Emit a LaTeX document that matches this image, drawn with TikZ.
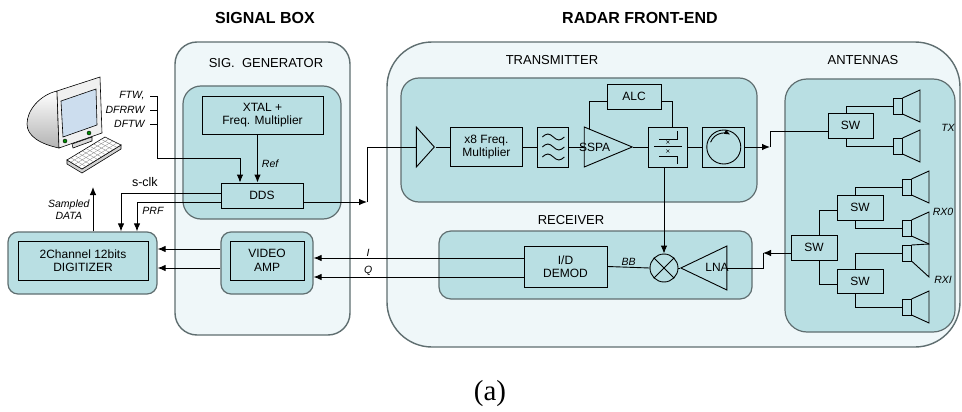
\documentclass[tikz,border=0pt]{standalone}
\usepackage{fontspec}
\setmainfont{Liberation Sans}
\newfontfamily\captionserif{Liberation Serif}
\usepackage{tikz}
\usetikzlibrary{positioning,arrows.meta,shapes.geometric,calc}
\definecolor{panelbg}{HTML}{EFF7F9}
\definecolor{traybg}{HTML}{B9DFE3}
\definecolor{rim}{HTML}{5F6E70}
\definecolor{screenblue}{HTML}{CCDDEE}
\tikzset{
  pics/horn/.style args={#1/#2}{code={
    \coordinate (-feed) at (0,0);
    \draw (0,-8) rectangle (9.5,8);
    \draw (9.5,-8) -- (27,-#1) -- (27,#2) -- (9.5,8);
  }}
}

\begin{document}
\begin{tikzpicture}[
x=1pt, y=-1pt,
node distance=14.5pt,
line width=0.9pt,
panel/.style={draw=rim, line width=1.4pt, fill=panelbg, rounded corners=#1, inner sep=0pt},
tray/.style={draw=rim, line width=1.2pt, fill=traybg, rounded corners=#1, inner sep=0pt},
blk/.style={draw, line width=0.9pt, align=center, inner sep=0pt, font=\fontsize{12}{13.5}\selectfont},
lbl/.style={inner sep=0pt, font=\fontsize{12}{13.5}\selectfont},
amp/.style={draw, isosceles triangle, isosceles triangle stretches, inner sep=0pt},
grp/.style={font=\fontsize{13}{15}\selectfont},
heading/.style={font=\fontsize{16}{18}\selectfont\bfseries},
note/.style={font=\fontsize{10.5}{12}\selectfont\itshape, inner sep=1pt},
sig/.style={-{Latex[length=8pt,width=6.5pt]}}
]
\useasboundingbox (0,0) rectangle (962,412);

\node[heading] (sbhead) at (265,18) {SIGNAL BOX};
\node[heading] (rfhead) at (640,18) {RADAR FRONT-END};

\node[panel=22pt, minimum width=175pt, minimum height=293pt] (sigbox) at (262.5,188.5) {};
\node[grp] (siglbl) at (266,63) {SIG.\ \ GENERATOR};
\node[tray=18pt, minimum width=158pt, minimum height=133pt] (siggen) at (262,152.5) {};
\node[blk, minimum width=121pt, minimum height=38pt] (xtal) at (262.5,115) {XTAL +\\Freq. Multiplier};
\node[blk, minimum width=82pt, minimum height=25pt] (dds) at (262,195.5) {DDS};
\node[tray=10pt, minimum width=92pt, minimum height=62pt] (vampbox) at (267,263) {};
\node[blk, minimum width=74pt, minimum height=39pt] (vamp) at (267,260.5) {VIDEO\\AMP};

\node[tray=10pt, minimum width=149pt, minimum height=62pt] (digbox) at (82.5,263) {};
\node[blk, minimum width=130pt, minimum height=39pt] (dig) at (83,260.5) {2Channel 12bits\\DIGITIZER};

\node[panel=45pt, minimum width=573pt, minimum height=305pt] (rfe) at (673.5,194.5) {};
\node[grp] (txlbl) at (552,60) {TRANSMITTER};
\node[tray=18pt, minimum width=356pt, minimum height=124pt] (txtray) at (579,140) {};
\node[amp, minimum height=18pt, minimum width=40pt] (buf) at (424,147) {};
\node[blk, minimum width=72pt, minimum height=39pt, right=of buf] (mult) {x8 Freq.\\Multiplier};
\node[blk, minimum width=31pt, minimum height=40pt, right=of mult] (filt) {};
\node[amp, minimum height=48pt, minimum width=40pt, right=of filt] (sspa) {};
\node[lbl] (sspatxt) at ([xshift=-3pt]sspa.center) {SSPA};
\node[blk, minimum width=39pt, minimum height=40pt, right=of sspa] (coup) {};
\node[blk, minimum width=42pt, minimum height=40pt, right=of coup] (circ) {};
\node[blk, minimum width=54pt, minimum height=25pt] (alc) at (634,96.5) {ALC};

\node[grp] (rxlbl) at (571,220) {RECEIVER};
\node[tray=12pt, minimum width=313pt, minimum height=68pt] (rxtray) at (595.5,265) {};
\node[blk, minimum width=83pt, minimum height=41pt] (demod) at (565.5,266.5) {I/D\\DEMOD};
\node[draw, circle, minimum size=28pt, inner sep=0pt] (mix) at (664,268) {};
\node[amp, shape border rotate=180, minimum height=46pt, minimum width=44pt] (lna) at (713,268) {};
\node[lbl] (lnatxt) at (717,267) {LNA};

\node[grp] (antlbl) at (863,60) {ANTENNAS};
\node[tray=22pt, minimum width=170pt, minimum height=253pt] (anttray) at (870,205.5) {};
\node[blk, minimum width=45pt, minimum height=25pt] (swtx) at (850.5,125.5) {SW};
\node[blk, minimum width=46pt, minimum height=25pt] (swrx) at (814,247.5) {SW};
\node[blk, minimum width=46pt, minimum height=25pt] (swa) at (860,207.5) {SW};
\node[blk, minimum width=46pt, minimum height=24pt] (swb) at (860,281) {SW};
\pic (hta) at (893,106) {horn=16/16};
\pic (htb) at (893,146) {horn=16/16};
\pic (hra) at (902,187) {horn=16/16};
\pic (hrb) at (902,228) {horn=16/16};
\pic (hrc) at (902,253) {horn=9/24};
\pic (hrd) at (902,307) {horn=16/16};
\node[note] (txtag) at (948,128) {TX};
\node[note] (rx0tag) at (943,212) {RX0};
\node[note] (rx1tag) at (943,280) {RXI};

\foreach \dy in {-10,0,10}
  \draw ([shift={(-11,\dy)}]filt.center) sin ++(5.5,-3) cos ++(5.5,3) sin ++(5.5,3) cos ++(5.5,-3);
\draw ([shift={(-8.5,-8)}]coup.center) -- ++(18,0) -- ++(0,-8);
\draw ([shift={(-13.5,-1)}]coup.center) -- ++(28,0);
\draw ([shift={(-8.5,9)}]coup.center) -- ++(18,0) -- ++(0,8);
\foreach \dy in {-5,4}
  \draw[line width=0.5pt] ([shift={(0,\dy)}]coup.center) +(-1.5,-1.5) -- +(1.5,1.5) +(-1.5,1.5) -- +(1.5,-1.5);
\draw (circ.center) circle[radius=17];
\draw[-{Latex[length=6pt,width=5pt]}] ([shift={(-160:14)}]circ.center) arc[start angle=-160, end angle=-62, radius=14];
\draw (mix.north west) -- (mix.south east) (mix.north east) -- (mix.south west);

\shade[top color=white, bottom color=gray!60, draw=black, line width=0.6pt] (57,91) .. controls (40,95) and (27,110) .. (27,124) .. controls (27,136) and (40,144) .. (59,148) -- cycle;
\draw[fill=gray!12, line width=0.6pt] (57,91) -- (100,77) -- (102,133) -- (59,148) -- cycle;
\draw[fill=screenblue, line width=0.6pt] (61,101) -- (96,89) -- (97,125) -- (63,137) -- cycle;
\draw[fill=green!55!black, line width=0.4pt] (65,141) circle[radius=2] (89,133) circle[radius=2];
\draw[fill=gray!30, line width=0.6pt] (72,144) -- (92,137) -- (92,141) -- (73,148) -- cycle;
\coordinate (kbA) at (67,160);
\coordinate (kbB) at (105,137);
\coordinate (kbC) at (121,145);
\coordinate (kbD) at (82,169);
\draw[fill=gray!35, line width=0.6pt] (kbA) -- (kbD) -- (kbC) -- ++(0,4) -- ($(kbD)+(0,4)$) -- ($(kbA)+(0,4)$) -- cycle;
\draw[fill=white, line width=0.6pt] (kbA) -- (kbB) -- (kbC) -- (kbD) -- cycle;
\foreach \t in {0.25,0.5,0.75}
  \draw[gray, line width=0.3pt] ($(kbA)!\t!(kbD)$) -- ($(kbB)!\t!(kbC)$);
\foreach \s in {0.1,0.2,...,0.9}
  \draw[gray, line width=0.3pt] ($(kbA)!\s!(kbB)$) -- ($(kbD)!\s!(kbC)$);

\node[note, anchor=east] (ftw) at (146,96) {FTW,};
\node[note, anchor=east] (dfrrw) at (146,110) {DFRRW};
\node[note, anchor=east] (dftw) at (146,124) {DFTW};
\coordinate (bus) at (157,158);
\draw[sig] ([xshift=4pt]ftw.east) -| (bus) -| ([xshift=-22pt]dds.north);
\draw ([xshift=4pt]dfrrw.east) -- (dfrrw.east -| bus);
\draw ([xshift=4pt]dftw.east) -- (dftw.east -| bus);
\draw[sig] ([xshift=-5pt]xtal.south) -- ([xshift=-5pt]xtal.south |- dds.north) node[note, pos=0.6, right=3pt] {Ref};

\draw[sig] ([yshift=2.5pt]dds.west) -| ([xshift=38.5pt]digbox.north) node[pos=0.38, above=3pt, font=\fontsize{12.5}{14}\selectfont] {s-clk};
\draw[sig] ([yshift=-6.5pt]dds.west) -| ([xshift=54.5pt]digbox.north) node[note, pos=0.65, right=4pt] {PRF};
\coordinate (pcin) at (93,187);
\draw[sig] ([xshift=10.5pt]digbox.north) -- (pcin) node[note, midway, left=2pt, align=center] {Sampled\\DATA};
\draw[sig] ([yshift=14pt]vampbox.west) -- ([yshift=14pt]digbox.east);
\draw[sig] ([yshift=-5pt]vampbox.west) -- ([yshift=-5pt]digbox.east);

\coordinate (txin) at (367,202);
\draw[sig] ([yshift=-6.5pt]dds.east) -- (txin);
\draw (txin) |- (buf.west);
\draw (buf.east) -- (mult.west);
\draw (mult.east) -- (filt.west);
\draw (filt.east) -- (sspa.west);
\draw (sspa.east) -- (coup.west);
\draw (coup.east) -- (circ.west);
\draw ([xshift=-8pt,yshift=3.3pt]sspa.north) |- ([yshift=-4.5pt]alc.west);
\draw ([yshift=-4.5pt]alc.east) -| ([xshift=4.5pt]coup.north);
\coordinate (txout) at (770,147);
\draw[sig] (circ.east) -- (txout);
\draw (txout) |- ([yshift=-5.5pt]swtx.west);

\draw[sig] (coup.south -| mix.north) -- (mix.north);
\draw (lna.west) -- (mix.east);
\draw (mix.west) -- (demod.east) node[note, midway, above] {BB};
\coordinate (rxin) at (763,253);
\draw[sig] ([yshift=-5.5pt]swrx.west) -- (rxin);
\draw (rxin) |- (lna.east);
\draw[sig] ([yshift=8.5pt]demod.west) -- ([yshift=8.5pt]demod.west -| vampbox.east) node[note, pos=0.74, above] {I};
\draw[sig] ([yshift=-10.5pt]demod.west) -- ([yshift=-10.5pt]demod.west -| vampbox.east) node[note, pos=0.74, above] {Q};

\draw ([xshift=-4.5pt]swtx.north) |- (hta-feed);
\draw ([xshift=-4.5pt]swtx.south) |- (htb-feed);
\draw ([xshift=5pt]swrx.north) |- ([yshift=-2.5pt]swa.west);
\draw ([xshift=5pt]swrx.south) |- ([yshift=-3pt]swb.west);
\draw ([xshift=-5pt]swa.north) |- (hra-feed);
\draw ([xshift=-5pt]swa.south) |- (hrb-feed);
\draw ([xshift=-5pt]swb.north) |- (hrc-feed);
\draw ([xshift=-5pt]swb.south) |- (hrd-feed);

\node[font=\captionserif\fontsize{29}{32}\selectfont] (cap) at (490,394) {(a)};
\end{tikzpicture}
\end{document}
